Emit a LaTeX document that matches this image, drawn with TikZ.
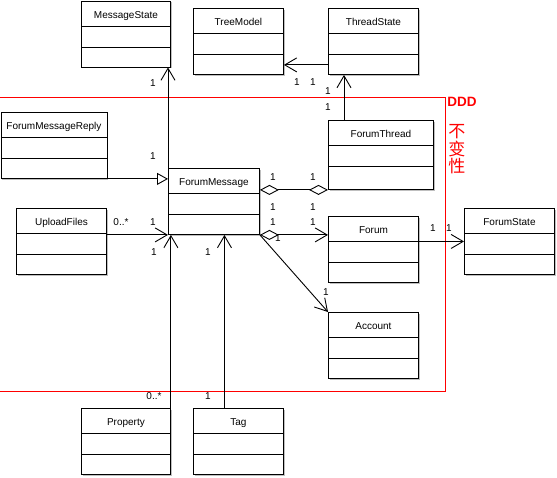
\documentclass[tikz,border=0pt]{standalone}
\usepackage{fontspec}
\setmainfont{Liberation Sans}
\newfontfamily\cjk{Noto Sans CJK SC}
\usetikzlibrary{arrows.meta, shadows}

\begin{document}
\begin{tikzpicture}[x=1pt, y=-1pt, line width=0.9pt]
        \tikzstyle{every node} = [font=\fontsize{10}{12}\selectfont]
        \tikzstyle{klass}      = [draw, fill=white, anchor=north west, minimum width=90pt,
                                  inner xsep=0pt, inner ysep=9.5pt, text height=8pt, text depth=39pt,
                                  drop shadow={shadow xshift=1.5pt, shadow yshift=-1.5pt, fill=black!25, opacity=1},
                                  path picture={
                                      \draw ([yshift=-25pt]path picture bounding box.north west) -- ([yshift=-25pt]path picture bounding box.north east);
                                      \draw ([yshift=-46pt]path picture bounding box.north west) -- ([yshift=-46pt]path picture bounding box.north east);
                                  }]
        \tikzstyle{mult}       = [inner sep=0pt]
        \tikzstyle{assoc}      = [-{Straight Barb[length=12pt, width=14pt]}]
        \tikzstyle{gener}      = [-{Triangle[open, length=11pt, width=12pt]}]
        \tikzstyle{aggr}       = [{Diamond[open, length=19pt, width=10pt]}-{Straight Barb[length=12pt, width=14pt]}]
        \tikzstyle{aggrboth}   = [{Diamond[open, length=19pt, width=10pt]}-{Diamond[open, length=19pt, width=10pt]}]
        \tikzstyle{frame}      = [draw=red, line width=1.2pt]

        \useasboundingbox (0,0) rectangle (557,477);

        % The DDD invariant frame.
        \draw[frame] (-1,97.5) -- (445.5,97.5) -- (445.5,391.5) -- (-1,391.5);
        \node[anchor=west, inner sep=0pt, text=red, font=\fontsize{13.5}{15}\selectfont\bfseries] (ddd) at (447,102) {DDD};
        \node[anchor=north west, inner sep=0pt, align=center, text=red, font=\cjk\fontsize{17}{17.5}\selectfont] (invariant) at (448,124) {不\\变\\性};

        % Classes.
        \node[klass, minimum width=89pt]  (msgstate)    at (81,0.5)  {MessageState};
        \node[klass]                      (treemodel)   at (193,8)   {TreeModel};
        \node[klass]                      (threadstate) at (328,8)   {ThreadState};
        \node[klass, minimum width=105pt, text depth=42pt] (forumthread) at (328,120) {ForumThread};
        \node[klass, minimum width=106pt] (reply)       at (0.5,112) {ForumMessageReply};
        \node[klass, minimum width=91pt]  (forummsg)    at (168,168) {ForumMessage};
        \node[klass]                      (upload)      at (16,208)  {UploadFiles};
        \node[klass]                      (forum)       at (328,216) {Forum};
        \node[klass]                      (forumstate)  at (464,208) {ForumState};
        \node[klass]                      (account)     at (328,312) {Account};
        \node[klass, minimum width=89pt]  (property)    at (81,408)  {Property};
        \node[klass]                      (tag)         at (193,408) {Tag};

        % Connectors.
        \draw[assoc] (forummsg.north west) -- (forummsg.north west |- msgstate.south);
        \draw[gener] (reply.south east) -- (reply.south east -| forummsg.west);
        \draw[assoc] (forummsg.south west -| upload.east) -- (forummsg.south west);
        \draw[assoc] (property.north east) -- (property.north east |- forummsg.south);
        \draw[assoc] ([xshift=-14pt]tag.north) -- ([xshift=-14pt]tag.north |- forummsg.south);
        \draw[aggrboth] (forumthread.south west -| forummsg.east) -- (forumthread.south west);
        \draw[aggr]  (forummsg.south east) -- (forummsg.south east -| forum.west);
        \draw[assoc] (forummsg.south east) -- (account.north west);
        \draw[assoc] ([xshift=16pt]forumthread.north west) -- ([xshift=16pt]threadstate.south west);
        \draw[assoc] ([yshift=10pt]threadstate.south west) -- ([yshift=10pt]threadstate.south west -| treemodel.east);
        \draw[assoc] (forum.east |- forumstate.west) -- (forumstate.west);

        % Multiplicities.
        \node[mult] (m1)  at (153,83)  {1};
        \node[mult] (m2)  at (153,156) {1};
        \node[mult] (m3)  at (121,222) {0..*};
        \node[mult] (m4)  at (153,222) {1};
        \node[mult] (m5)  at (154,252) {1};
        \node[mult] (m6)  at (154,396) {0..*};
        \node[mult] (m7)  at (208,252) {1};
        \node[mult] (m8)  at (208,396) {1};
        \node[mult] (m9)  at (273,177) {1};
        \node[mult] (m10) at (313,177) {1};
        \node[mult] (m11) at (273,207) {1};
        \node[mult] (m12) at (313,207) {1};
        \node[mult] (m13) at (273,222) {1};
        \node[mult] (m14) at (313,222) {1};
        \node[mult] (m15) at (278,238) {1};
        \node[mult] (m16) at (326,292) {1};
        \node[mult] (m17) at (328,91)  {1};
        \node[mult] (m18) at (328,107) {1};
        \node[mult] (m19) at (297,82)  {1};
        \node[mult] (m20) at (313,82)  {1};
        \node[mult] (m21) at (433,228) {1};
        \node[mult] (m22) at (449,228) {1};
\end{tikzpicture}
\end{document}
